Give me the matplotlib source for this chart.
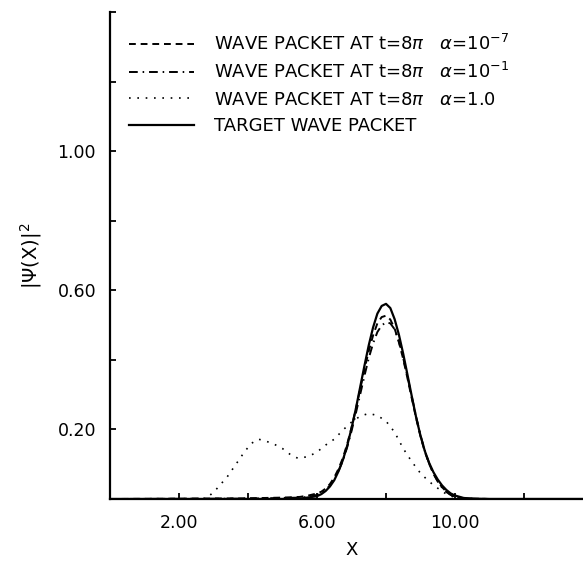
import matplotlib
matplotlib.use("Agg")
import matplotlib.pyplot as plt
from matplotlib.ticker import FixedLocator

plt.rcParams['font.family'] = ['DejaVu Sans']
plt.rcParams['mathtext.fontset'] = 'dejavusans'

# ---- data ----
x_target = [0.0, 5.0, 5.5, 6.0, 6.125, 6.25, 6.375, 6.5, 6.625, 6.75, 6.875, 7.0, 7.125,
            7.25, 7.375, 7.5, 7.625, 7.75, 7.875, 8.0, 8.125, 8.25, 8.375, 8.5, 8.625,
            8.75, 8.875, 9.0, 9.125, 9.25, 9.375, 9.5, 9.625, 9.75, 9.875, 10.0, 10.25,
            10.5, 11.0, 14.0]
y_target = [0.0, 0.0, 0.001, 0.008, 0.014, 0.023, 0.036, 0.054, 0.080, 0.112, 0.153, 0.203,
            0.259, 0.321, 0.383, 0.442, 0.493, 0.533, 0.555, 0.561, 0.549, 0.517, 0.472,
            0.417, 0.356, 0.294, 0.234, 0.182, 0.138, 0.104, 0.077, 0.056, 0.039, 0.026,
            0.016, 0.010, 0.003, 0.001, 0.0, 0.0]

x_a7 = [0.0, 4.0, 4.5, 5.0, 5.5, 5.75, 6.0, 6.125, 6.25, 6.375, 6.5, 6.625, 6.75, 6.875,
        7.0, 7.125, 7.25, 7.375, 7.5, 7.625, 7.75, 7.875, 8.0, 8.125, 8.25, 8.375, 8.5,
        8.625, 8.75, 8.875, 9.0, 9.125, 9.25, 9.375, 9.5, 9.625, 9.75, 9.875, 10.0,
        10.25, 10.5, 11.0, 14.0]
y_a7 = [0.0, 0.002, 0.003, 0.004, 0.006, 0.010, 0.016, 0.021, 0.030, 0.043, 0.062, 0.087,
        0.118, 0.158, 0.205, 0.258, 0.315, 0.372, 0.425, 0.470, 0.505, 0.523, 0.527, 0.516,
        0.490, 0.450, 0.402, 0.346, 0.288, 0.232, 0.180, 0.136, 0.101, 0.073, 0.051, 0.034,
        0.021, 0.012, 0.007, 0.002, 0.001, 0.0, 0.0]

x_a1 = [0.0, 4.0, 4.5, 5.0, 5.5, 5.75, 6.0, 6.125, 6.25, 6.375, 6.5, 6.625, 6.75, 6.875,
        7.0, 7.125, 7.25, 7.375, 7.5, 7.625, 7.75, 7.875, 8.0, 8.125, 8.25, 8.375, 8.5,
        8.625, 8.75, 8.875, 9.0, 9.125, 9.25, 9.375, 9.5, 9.625, 9.75, 9.875, 10.0,
        10.25, 10.5, 11.0, 14.0]
y_a1 = [0.0, 0.001, 0.002, 0.003, 0.004, 0.006, 0.012, 0.018, 0.026, 0.039, 0.058, 0.081,
        0.110, 0.149, 0.195, 0.246, 0.300, 0.354, 0.405, 0.447, 0.480, 0.499, 0.508, 0.505,
        0.488, 0.453, 0.405, 0.350, 0.293, 0.236, 0.183, 0.139, 0.102, 0.073, 0.050, 0.033,
        0.020, 0.012, 0.007, 0.002, 0.001, 0.0, 0.0]

x_a10 = [2.7, 2.85, 3.1, 3.4, 3.7, 3.9, 4.1, 4.3, 4.5, 4.75, 5.0, 5.25, 5.45, 5.75, 6.0,
         6.25, 6.5, 6.75, 7.0, 7.25, 7.5, 7.75, 8.0, 8.25, 8.5, 8.75, 9.0, 9.25, 9.5,
         9.75, 10.0, 10.2]
y_a10 = [0.0, 0.006, 0.030, 0.064, 0.107, 0.136, 0.160, 0.172, 0.167, 0.158, 0.145, 0.126,
         0.117, 0.122, 0.135, 0.155, 0.172, 0.198, 0.221, 0.238, 0.246, 0.240, 0.224, 0.192,
         0.145, 0.107, 0.074, 0.050, 0.031, 0.014, 0.004, 0.0]

labels = ["WAVE PACKET AT t=8$\\pi$   $\\alpha$=10$^{-7}$",
          "WAVE PACKET AT t=8$\\pi$   $\\alpha$=10$^{-1}$",
          "WAVE PACKET AT t=8$\\pi$   $\\alpha$=1.0",
          "TARGET WAVE PACKET"]

x_major = [2.0, 6.0, 10.0, 14.0]
x_minor = [4.0, 8.0, 12.0]
y_major = [0.2, 0.6, 1.0, 1.4]
y_minor = [0.4, 0.8, 1.2]

# ---- figure ----
W, H = 583, 561
fig = plt.figure(figsize=(W / 100, H / 100), dpi=100)
left, right, bottom, top = 110, 593, 499, 12
ax = fig.add_axes([left / W, 1 - bottom / H, (right - left) / W, (bottom - top) / H])

ax.plot(x_a7, y_a7, color='black', lw=1.4, linestyle=(0, (3.5, 2.5)), label=labels[0])
ax.plot(x_a1, y_a1, color='black', lw=1.4, linestyle=(0, (4.5, 2.5, 0.8, 2.5)), label=labels[1])
ax.plot(x_a10, y_a10, color='black', lw=1.2, linestyle=(0, (1.0, 4.0)), label=labels[2])
ax.plot(x_target, y_target, color='black', lw=1.6, linestyle='-', label=labels[3])

ax.set_xlim(0, 14)
ax.set_ylim(0, 1.4)

for s in ['top', 'right']:
    ax.spines[s].set_visible(False)
for s in ['left', 'bottom']:
    ax.spines[s].set_linewidth(1.6)

ax.xaxis.set_major_locator(FixedLocator(x_major))
ax.xaxis.set_minor_locator(FixedLocator(x_minor))
ax.yaxis.set_major_locator(FixedLocator(y_major))
ax.yaxis.set_minor_locator(FixedLocator(y_minor))
ax.set_xticklabels(["2.00", "6.00", "10.00", ""])
ax.set_yticklabels(["0.20", "0.60", "1.00", ""])
ax.tick_params(which='both', direction='in', length=4, width=1.3, labelsize=12.5)
ax.tick_params(axis='x', pad=11)
ax.tick_params(axis='y', pad=10)

ax.set_xlabel("X", fontsize=13, labelpad=6)
ax.set_ylabel("|Ψ(X)|$^2$", fontsize=14, labelpad=10)

leg = ax.legend(loc='upper left', bbox_to_anchor=(0.025, 0.97), frameon=False,
                fontsize=13, handlelength=3.6, handletextpad=1.1, labelspacing=0.46,
                borderaxespad=0.0)

fig.savefig("out.png", dpi=100)
